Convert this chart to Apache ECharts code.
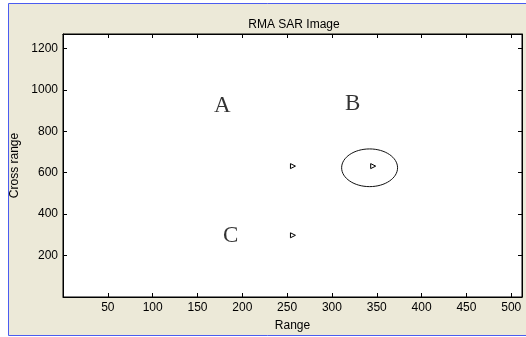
<!DOCTYPE html>
<html><head><meta charset="utf-8">
<script src="https://cdn.jsdelivr.net/npm/echarts@6/dist/echarts.min.js"></script>
<style>html,body{margin:0;padding:0;background:#fff}#c{width:526px;height:337px}</style>
</head><body><div id="c"></div>
<script>
// Data
const titleText = 'RMA SAR Image';
const xName = 'Range';
const yName = 'Cross range';
const xRange = [0, 512];
const yRange = [0, 1270];
const xTickStep = 50;
const yTickStep = 200;
// point targets (x, y)
const targetX = [256.5, 346, 256.5];
const targetY = [632, 632, 298];
// contour ellipse around target B: center x, center y, radius x, radius y
const ellipse = [[342, 624, 31.2, 91]];
// annotation letters
const letterNames = ['A', 'B', 'C'];
const letterX = [177.7, 323, 187];
const letterY = [922, 934, 294];

const font = '"Liberation Sans", Arial, sans-serif';
const chart = echarts.init(document.getElementById('c'), null, {renderer: 'canvas'});
const grid = {left: 63, right: 4, top: 34, bottom: 35, show: true, backgroundColor: '#fff', borderColor: '#000', borderWidth: 1, containLabel: false};
const tickStyle = {show: true, inside: true, length: 4, lineStyle: {color: '#000', width: 1}};
const baseAxis = {
  type: 'value', splitLine: {show: false},
  axisLine: {show: true, onZero: false, lineStyle: {color: '#000', width: 1}},
  axisTick: tickStyle
};
chart.setOption({
  backgroundColor: '#fff',
  animation: false,
  graphic: [{
    type: 'rect', z: -10, silent: true,
    shape: {x: 8.5, y: 3.5, width: 540, height: 332},
    style: {fill: '#ece9d8', stroke: '#4b5cf0', lineWidth: 1}
  }],
  title: {
    text: titleText, left: 289, top: 14, textAlign: 'center',
    textStyle: {fontFamily: font, fontSize: 12, fontWeight: 'normal', color: '#000'}
  },
  grid: grid,
  xAxis: [
    Object.assign({}, baseAxis, {
      min: xRange[0], max: xRange[1], interval: xTickStep, position: 'bottom',
      name: xName, nameLocation: 'middle', nameGap: 23,
      nameTextStyle: {fontFamily: font, fontSize: 12, color: '#000'},
      axisLabel: {fontFamily: font, fontSize: 12, color: '#000', margin: 5,
        showMinLabel: false, showMaxLabel: false,
        formatter: v => (v > 0 && v % xTickStep === 0) ? String(v) : ''}
    }),
    Object.assign({}, baseAxis, {
      min: xRange[0], max: xRange[1], interval: xTickStep, position: 'top',
      axisLabel: {show: false}
    })
  ],
  yAxis: [
    Object.assign({}, baseAxis, {
      min: yRange[0], max: yRange[1], interval: yTickStep, position: 'left',
      name: yName, nameLocation: 'middle', nameGap: 41, nameRotate: 90,
      nameTextStyle: {fontFamily: font, fontSize: 12, color: '#000'},
      axisLabel: {fontFamily: font, fontSize: 12, color: '#000', margin: 5,
        showMinLabel: false, showMaxLabel: false,
        formatter: v => (v > 0 && v % yTickStep === 0) ? String(v) : ''}
    }),
    Object.assign({}, baseAxis, {
      min: yRange[0], max: yRange[1], interval: yTickStep, position: 'right',
      axisLabel: {show: false}
    })
  ],
  series: [
    {
      type: 'custom', xAxisIndex: 0, yAxisIndex: 0,
      data: ellipse,
      renderItem: function (params, api) {
        const c = api.coord([api.value(0), api.value(1)]);
        const s = api.size([api.value(2), api.value(3)]);
        return {
          type: 'ellipse',
          shape: {cx: c[0], cy: c[1], rx: s[0], ry: s[1]},
          style: {fill: 'none', stroke: '#111', lineWidth: 1}
        };
      }
    },
    {
      type: 'scatter', xAxisIndex: 0, yAxisIndex: 0,
      data: targetX.map((x, i) => [x, targetY[i]]),
      symbol: 'triangle', symbolSize: 5, symbolRotate: -90,
      itemStyle: {color: '#fff', borderColor: '#000', borderWidth: 1, opacity: 1}
    },
    {
      type: 'scatter', xAxisIndex: 0, yAxisIndex: 0,
      data: letterNames.map((n, i) => ({name: n, value: [letterX[i], letterY[i]]})),
      symbolSize: 1,
      itemStyle: {color: 'rgba(0,0,0,0)'},
      label: {show: true, position: 'inside', formatter: p => p.name,
        fontFamily: '"Liberation Serif", "Times New Roman", serif', fontSize: 23, color: '#000'}
    }
  ]
});
</script>
</body></html>
